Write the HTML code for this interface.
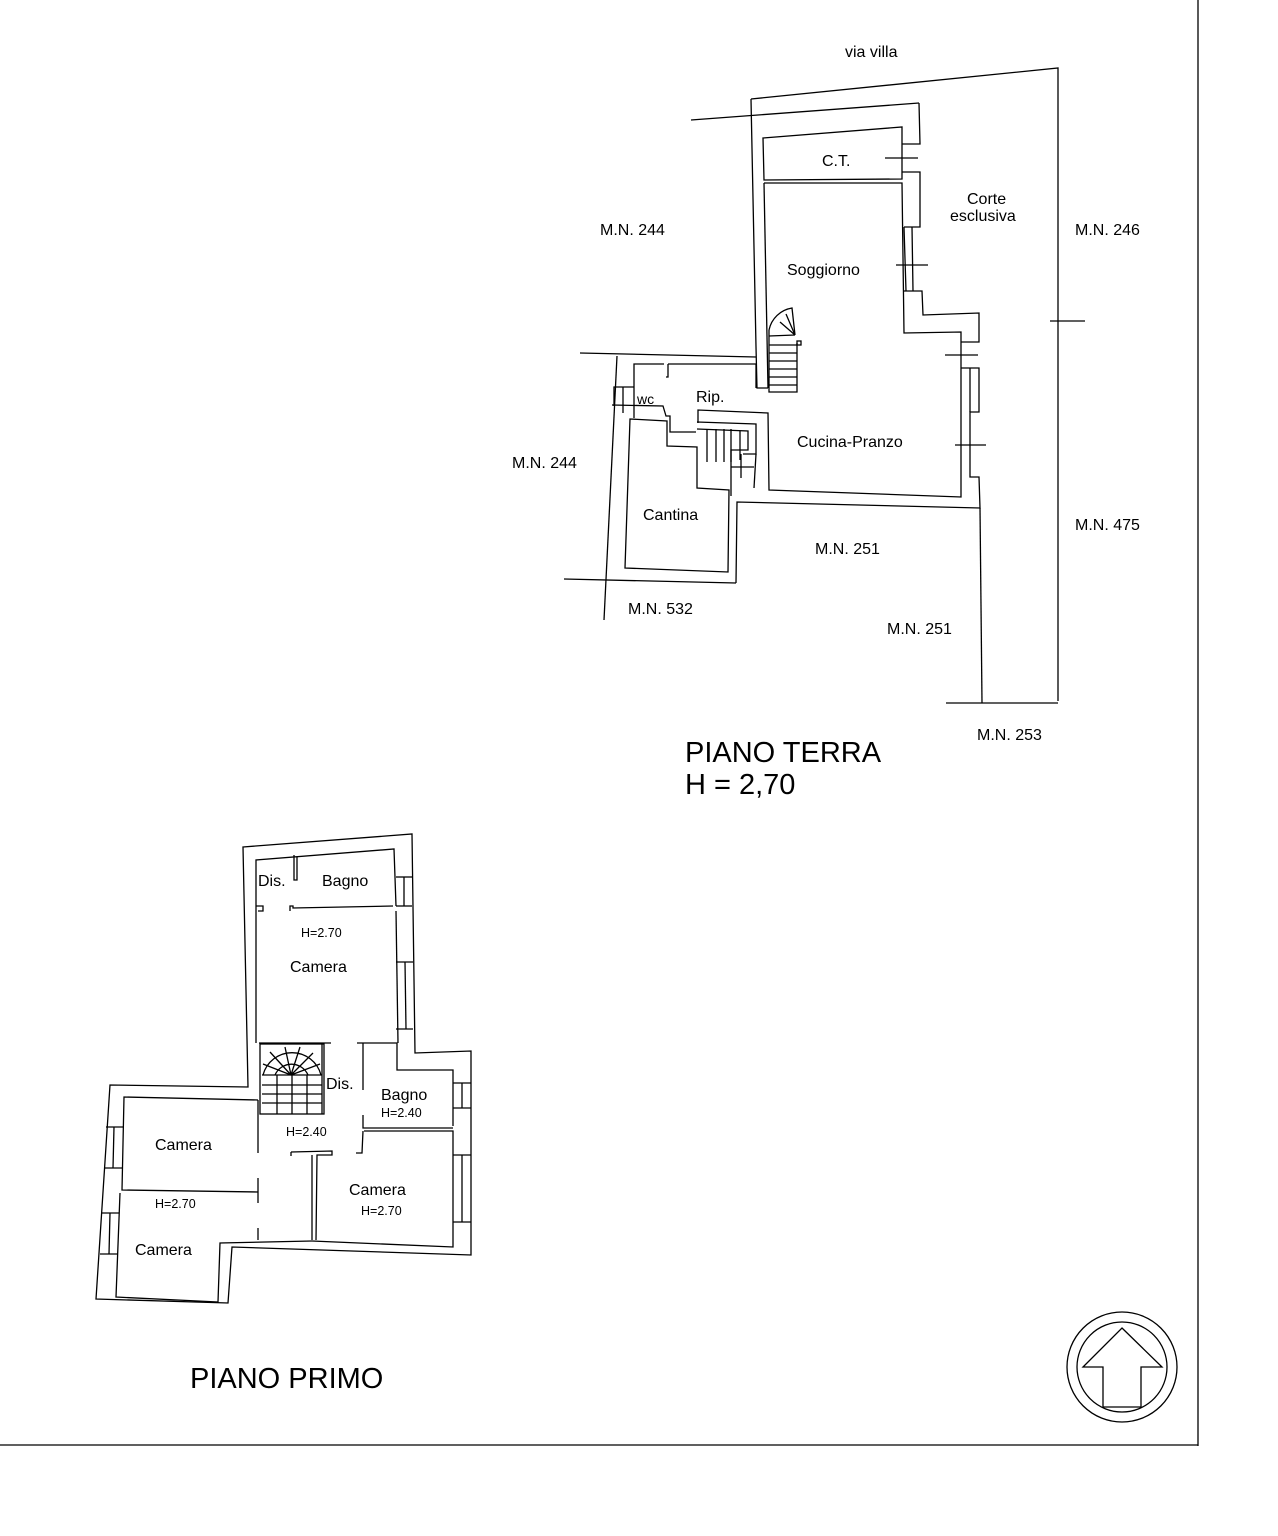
<!DOCTYPE html>
<html><head><meta charset="utf-8"><style>
html,body{margin:0;padding:0;background:#fff}
svg{display:block}
text{font-family:"Liberation Sans",sans-serif;fill:#000}
</style></head><body>
<svg width="1278" height="1536" viewBox="0 0 1278 1536" xmlns="http://www.w3.org/2000/svg">
<g fill="none" stroke="#000" stroke-width="1.3">
<line x1="1198" y1="0" x2="1198" y2="1446"/>
<line x1="0" y1="1445" x2="1198" y2="1445"/>

<polyline points="751,99 1058,68 1058,701"/>
<line x1="946" y1="703" x2="1058" y2="703"/>
<line x1="1050" y1="321" x2="1085" y2="321"/>
<line x1="691" y1="120" x2="919" y2="103"/>
<polyline points="751,99 756,347 757,388 768,388"/>
<line x1="580" y1="353" x2="756" y2="357"/>
<polyline points="617,356 604,620"/>
<line x1="564" y1="579" x2="736" y2="583"/>
<polyline points="980,508 982,703"/>

<polygon points="763,138 902,127 902,179 764,180"/>
<polyline points="919,103 920,144 902,144"/>
<polyline points="902,172 920,172 920,227 904,227"/>
<line x1="885" y1="158" x2="918" y2="158"/>
<polyline points="764,183 902,183 904,333 961,332 961,497 769,490 768,413 698,410 698,423"/>
<polyline points="764,183 768,388"/>
<line x1="904" y1="227" x2="906" y2="291"/>
<line x1="912" y1="227" x2="913" y2="291"/>
<line x1="896" y1="265" x2="928" y2="265"/>
<polyline points="904,291 922,291 923,315 979,313 979,342 961,342"/>
<polyline points="961,368 979,368 979,412 970,412 970,477 979,477 980,508 737,502 736,583"/>
<line x1="945" y1="355" x2="978" y2="355"/>
<line x1="955" y1="445" x2="986" y2="445"/>
<line x1="970" y1="368" x2="970" y2="412"/>
<polyline points="769,330 769,392 797,392 797,343"/>
<line x1="769" y1="345" x2="797" y2="345"/>
<line x1="769" y1="353" x2="797" y2="353"/>
<line x1="769" y1="361" x2="797" y2="361"/>
<line x1="769" y1="369" x2="797" y2="369"/>
<line x1="769" y1="377" x2="797" y2="377"/>
<line x1="769" y1="385" x2="797" y2="385"/>
<path d="M769,330 A28,28 0 0 1 792,308 L795,335"/>
<path d="M780,322 L795,335 M786,314 L795,335 M769,336 L795,335"/>
<rect x="797" y="341" width="4" height="4"/>
<polyline points="634,418 634,364 664,364"/>
<polyline points="668,364 668,377 666,377"/>
<polyline points="668,364 756,364 756,388"/>
<polyline points="614,406 614,387 634,387"/>
<line x1="623" y1="387" x2="623" y2="413"/>
<polyline points="612,405 663,406 666,416 670,416 670,432 696,432"/>
<polygon points="630,419 667,421 667,446 697,447 697,488 729,490 728,572 625,568"/>
<polyline points="697,422 756,424 756,454 743,454"/>
<polyline points="697,429 748,431 748,450 731,450 731,496"/>
<line x1="707" y1="429" x2="707" y2="462"/>
<line x1="716" y1="429" x2="716" y2="462"/>
<line x1="724" y1="429" x2="724" y2="462"/>
<line x1="731" y1="429" x2="731" y2="462"/>
<line x1="740" y1="431" x2="740" y2="460"/>
<line x1="731" y1="467" x2="754" y2="467"/>
<line x1="756" y1="454" x2="754" y2="488"/>
<line x1="741" y1="454" x2="741" y2="478"/>

<polygon points="243,847 412,834 415,1053 471,1051 471,1255 232,1247 228,1303 96,1299 110,1085 248,1087"/>
<polyline points="256,1043 256,860 394,849 396,906"/>
<polyline points="294,855 294,880 297,880 297,857"/>
<polyline points="256,906 263,906 263,911 258,911"/>
<polyline points="290,911 290,906 293,906 293,908 393,906"/>
<line x1="396" y1="877" x2="412" y2="877"/>
<line x1="396" y1="906" x2="412" y2="906"/>
<line x1="404" y1="877" x2="404" y2="906"/>
<polyline points="396,911 398,1043"/>
<line x1="396" y1="962" x2="413" y2="962"/>
<line x1="396" y1="1029" x2="413" y2="1029"/>
<line x1="405" y1="962" x2="406" y2="1029"/>
<polyline points="259,1043 331,1043"/>
<polyline points="357,1043 397,1043 397,1070 453,1070 453,1126"/>
<polyline points="363,1043 363,1090"/>
<polyline points="363,1115 363,1128 453,1128"/>
<polyline points="363,1131 362,1153 356,1153"/>
<polyline points="364,1131 453,1131 453,1247 312,1241"/>
<line x1="453" y1="1083" x2="471" y2="1083"/>
<line x1="453" y1="1108" x2="471" y2="1108"/>
<line x1="462" y1="1083" x2="462" y2="1108"/>
<line x1="453" y1="1155" x2="471" y2="1155"/>
<line x1="453" y1="1222" x2="471" y2="1222"/>
<line x1="462" y1="1155" x2="462" y2="1222"/>
<rect x="260" y="1044" width="64" height="70"/>
<line x1="322" y1="1044" x2="322" y2="1114"/>
<path d="M263,1075 A30,30 0 0 1 321,1075"/>
<path d="M275,1075 A18,18 0 0 1 308,1075"/>
<line x1="262" y1="1075" x2="322" y2="1075"/>
<line x1="292" y1="1075" x2="292" y2="1114"/>
<path d="M291,1075 L263,1064 M291,1075 L270,1052 M291,1075 L285,1047 M291,1075 L300,1047 M291,1075 L313,1053 M291,1075 L320,1064"/>
<line x1="262" y1="1085" x2="322" y2="1085"/>
<line x1="262" y1="1094" x2="322" y2="1094"/>
<line x1="262" y1="1103" x2="322" y2="1103"/>
<line x1="277" y1="1075" x2="277" y2="1114"/>
<line x1="307" y1="1075" x2="307" y2="1114"/>
<polyline points="258,1100 124,1097 122,1190 258,1192"/>
<line x1="258" y1="1100" x2="258" y2="1153"/>
<line x1="258" y1="1178" x2="258" y2="1203"/>
<line x1="258" y1="1228" x2="258" y2="1240"/>
<polyline points="120,1193 116,1297 218,1302 220,1243 312,1241"/>
<polyline points="291,1152 332,1151 332,1155 317,1155 316,1240"/>
<line x1="312" y1="1155" x2="312" y2="1240"/>
<line x1="291" y1="1152" x2="291" y2="1156"/>
<line x1="106" y1="1127" x2="123" y2="1127"/>
<line x1="104" y1="1168" x2="122" y2="1168"/>
<line x1="114" y1="1127" x2="113" y2="1168"/>
<line x1="102" y1="1213" x2="119" y2="1213"/>
<line x1="100" y1="1254" x2="117" y2="1254"/>
<line x1="110" y1="1213" x2="109" y2="1254"/>

<circle cx="1122" cy="1367" r="55"/>
<circle cx="1122" cy="1367" r="45"/>
<polygon points="1122,1328 1162,1367 1141,1367 1141,1407 1103,1407 1103,1367 1083,1367"/>
</g>

<g font-size="16">
<text x="845" y="57">via villa</text>
<text x="822" y="166">C.T.</text>
<text x="967" y="204">Corte</text>
<text x="950" y="221">esclusiva</text>
<text x="600" y="235">M.N. 244</text>
<text x="1075" y="235">M.N. 246</text>
<text x="787" y="275">Soggiorno</text>
<text x="637" y="404" font-size="14">wc</text>
<text x="696" y="402">Rip.</text>
<text x="797" y="447">Cucina-Pranzo</text>
<text x="512" y="468">M.N. 244</text>
<text x="643" y="520">Cantina</text>
<text x="1075" y="530">M.N. 475</text>
<text x="815" y="554">M.N. 251</text>
<text x="628" y="614">M.N. 532</text>
<text x="887" y="634">M.N. 251</text>
<text x="977" y="740">M.N. 253</text>
<text x="258" y="886">Dis.</text>
<text x="322" y="886">Bagno</text>
<text x="301" y="937" font-size="12.5">H=2.70</text>
<text x="290" y="972">Camera</text>
<text x="326" y="1089">Dis.</text>
<text x="381" y="1100">Bagno</text>
<text x="381" y="1117" font-size="12.5">H=2.40</text>
<text x="286" y="1136" font-size="12.5">H=2.40</text>
<text x="155" y="1150">Camera</text>
<text x="349" y="1195">Camera</text>
<text x="155" y="1208" font-size="12.5">H=2.70</text>
<text x="361" y="1215" font-size="12.5">H=2.70</text>
<text x="135" y="1255">Camera</text>
</g>
<g font-size="29">
<text x="685" y="762">PIANO TERRA</text>
<text x="685" y="794">H = 2,70</text>
<text x="190" y="1388">PIANO PRIMO</text>
</g>
</svg>
</body></html>
